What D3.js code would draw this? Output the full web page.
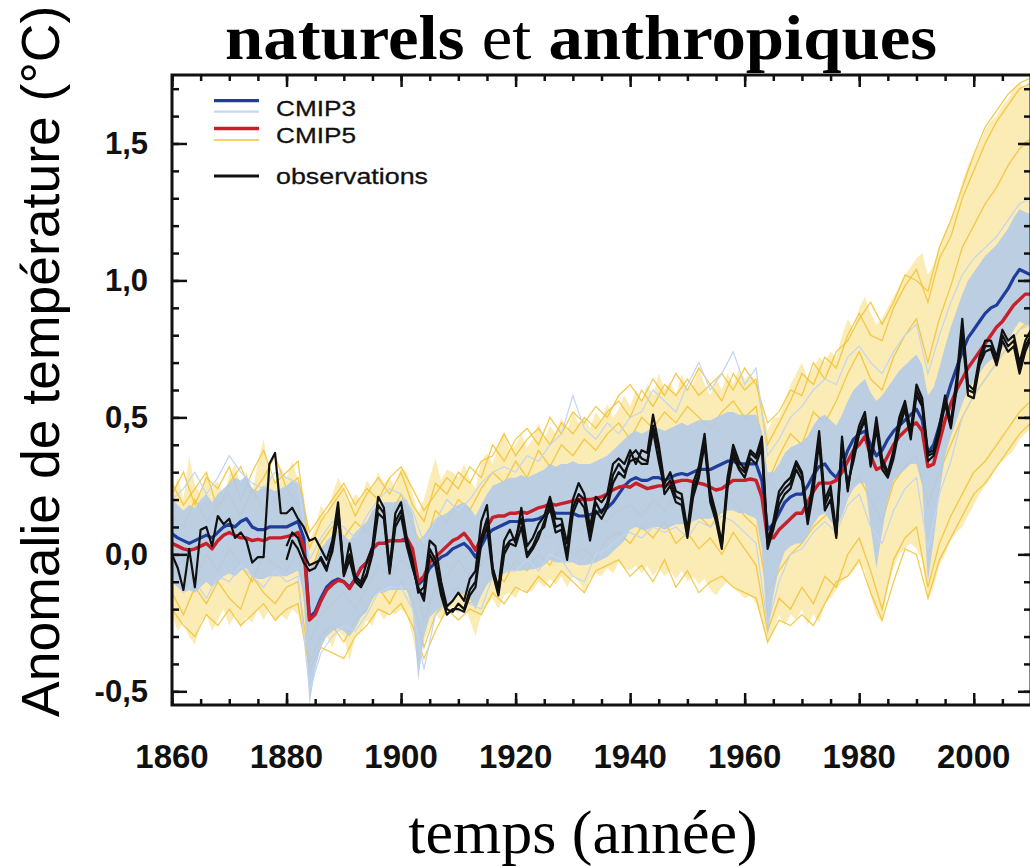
<!DOCTYPE html>
<html><head><meta charset="utf-8">
<script src="https://cdn.jsdelivr.net/npm/d3@7"></script>
<style>body{margin:0;background:#fff}svg{display:block}</style>
</head><body><svg id="c" width="1030" height="867"></svg>
<script>
// ---------- data (°C anomaly) ----------
const startYear = 1860, endYear = 2010, obsLateStart = 1880;

// observations, dataset A (1860-2010)
const obsA = [
 0.00,-0.05,-0.13,0.02,-0.12,0.09,0.10,0.03,0.14,0.11,
 0.13,0.06,0.08,0.05,-0.03,-0.01,-0.01,0.33,0.37,0.15,
 0.15,0.17,0.13,0.10,0.05,0.06,0.02,-0.02,0.05,0.19,
 -0.07,0.04,-0.08,-0.10,-0.03,0.03,0.21,0.17,-0.05,0.15,
 0.19,0.06,-0.02,-0.14,-0.12,0.05,0.03,-0.10,-0.19,-0.17,
 -0.14,-0.17,-0.09,-0.06,0.12,0.18,-0.05,-0.12,0.05,0.09,
 0.04,0.17,0.03,0.06,0.11,0.14,0.21,0.13,0.13,0.04,
 0.20,0.26,0.22,0.10,0.21,0.19,0.22,0.33,0.35,0.33,
 0.38,0.33,0.38,0.37,0.51,0.40,0.26,0.30,0.23,0.22,
 0.09,0.26,0.32,0.44,0.23,0.15,0.04,0.28,0.40,0.34,
 0.31,0.38,0.36,0.43,0.05,0.12,0.23,0.26,0.28,0.34,
 0.30,0.14,0.28,0.45,0.20,0.25,0.08,0.43,0.23,0.38,
 0.47,0.52,0.35,0.50,0.35,0.30,0.38,0.50,0.56,0.45,
 0.62,0.57,0.37,0.38,0.47,0.58,0.48,0.64,0.86,0.62,
 0.60,0.72,0.78,0.78,0.72,0.82,0.78,0.80,0.70,0.78,
 0.82];
// observations, datasets B and C (1880-2010)
const obsB = [
 0.03,0.08,0.06,0.00,-0.04,-0.03,-0.02,-0.06,0.03,0.17,
 -0.06,0.00,-0.09,-0.11,-0.07,0.01,0.18,0.15,-0.06,0.12,
 0.16,0.05,-0.04,-0.13,-0.15,0.02,-0.02,-0.13,-0.20,-0.21,
 -0.18,-0.20,-0.13,-0.10,0.06,0.13,-0.05,-0.14,0.02,0.05,
 0.06,0.13,0.00,0.03,0.08,0.10,0.19,0.10,0.11,0.00,
 0.17,0.22,0.20,0.07,0.19,0.15,0.19,0.29,0.33,0.30,
 0.34,0.35,0.33,0.33,0.47,0.38,0.22,0.25,0.19,0.18,
 0.06,0.21,0.28,0.40,0.19,0.12,0.02,0.24,0.36,0.31,
 0.28,0.35,0.33,0.39,0.02,0.09,0.18,0.22,0.24,0.31,
 0.27,0.11,0.23,0.41,0.16,0.20,0.06,0.39,0.26,0.34,
 0.44,0.49,0.32,0.46,0.31,0.28,0.35,0.46,0.53,0.42,
 0.58,0.54,0.34,0.36,0.44,0.55,0.46,0.60,0.80,0.58,
 0.57,0.69,0.74,0.75,0.69,0.78,0.74,0.76,0.66,0.74,
 0.79];
const obsC = [
 -0.02,0.05,0.02,-0.03,-0.06,-0.05,-0.01,-0.05,0.01,0.14,
 -0.08,-0.02,-0.10,-0.12,-0.08,0.00,0.15,0.13,-0.07,0.10,
 0.14,0.03,-0.05,-0.12,-0.17,0.00,-0.04,-0.15,-0.22,-0.20,
 -0.20,-0.21,-0.15,-0.12,0.04,0.10,-0.07,-0.15,0.00,0.04,
 0.03,0.10,-0.01,0.02,0.06,0.12,0.17,0.08,0.09,-0.02,
 0.15,0.20,0.17,0.05,0.16,0.13,0.17,0.26,0.30,0.28,
 0.36,0.38,0.35,0.34,0.45,0.34,0.24,0.27,0.21,0.20,
 0.08,0.23,0.30,0.42,0.21,0.14,0.03,0.26,0.38,0.32,
 0.30,0.37,0.35,0.41,0.04,0.10,0.21,0.24,0.26,0.33,
 0.29,0.13,0.26,0.43,0.18,0.23,0.07,0.41,0.24,0.36,
 0.45,0.50,0.33,0.48,0.33,0.29,0.37,0.48,0.54,0.44,
 0.60,0.55,0.36,0.37,0.45,0.57,0.47,0.62,0.83,0.60,
 0.59,0.70,0.76,0.76,0.70,0.80,0.76,0.78,0.68,0.76,
 0.80];

// multi-model means (1860-2010)
const cmip5Mean = [
 0.04,0.03,0.02,0.015,0.02,0.03,0.04,0.02,0.05,0.07,
 0.08,0.07,0.06,0.06,0.05,0.055,0.05,0.06,0.06,0.06,
 0.065,0.07,0.08,0.03,-0.24,-0.22,-0.17,-0.13,-0.11,-0.095,
 -0.10,-0.125,-0.09,-0.05,-0.03,0.02,0.04,0.04,0.05,0.05,
 0.05,0.06,0.02,-0.10,-0.08,-0.03,-0.01,0.01,0.03,0.05,
 0.06,0.077,0.05,0.015,0.06,0.10,0.135,0.14,0.14,0.15,
 0.15,0.155,0.15,0.16,0.17,0.175,0.185,0.18,0.185,0.19,
 0.195,0.20,0.20,0.20,0.205,0.21,0.22,0.235,0.245,0.25,
 0.245,0.26,0.25,0.24,0.245,0.25,0.25,0.26,0.265,0.27,
 0.27,0.265,0.26,0.255,0.245,0.235,0.24,0.255,0.27,0.27,
 0.27,0.275,0.27,0.21,0.06,0.06,0.09,0.11,0.13,0.15,
 0.15,0.19,0.23,0.26,0.26,0.26,0.27,0.30,0.34,0.38,
 0.40,0.43,0.36,0.31,0.32,0.36,0.40,0.43,0.45,0.47,
 0.48,0.45,0.32,0.33,0.41,0.49,0.55,0.60,0.64,0.68,
 0.71,0.74,0.77,0.80,0.83,0.85,0.88,0.91,0.93,0.95,
 0.95];
const cmip3Mean = [
 0.075,0.06,0.05,0.04,0.05,0.06,0.07,0.06,0.08,0.10,
 0.11,0.10,0.12,0.13,0.10,0.09,0.09,0.10,0.10,0.10,
 0.10,0.11,0.12,0.06,-0.23,-0.21,-0.16,-0.12,-0.10,-0.09,
 -0.10,-0.12,-0.09,-0.05,-0.03,0.02,0.04,0.04,0.05,0.05,
 0.05,0.05,0.00,-0.11,-0.09,-0.05,-0.03,-0.01,0.00,0.02,
 0.03,0.04,0.02,-0.01,0.03,0.07,0.09,0.10,0.11,0.12,
 0.12,0.12,0.125,0.125,0.13,0.14,0.16,0.15,0.15,0.15,
 0.15,0.14,0.14,0.145,0.15,0.16,0.17,0.19,0.22,0.25,
 0.27,0.28,0.27,0.27,0.28,0.28,0.27,0.28,0.29,0.295,
 0.29,0.30,0.31,0.31,0.31,0.32,0.33,0.34,0.34,0.33,
 0.33,0.33,0.33,0.27,0.09,0.11,0.15,0.19,0.21,0.22,
 0.22,0.25,0.29,0.32,0.33,0.30,0.28,0.32,0.38,0.42,
 0.44,0.45,0.40,0.36,0.38,0.42,0.45,0.47,0.49,0.51,
 0.53,0.49,0.37,0.40,0.47,0.55,0.62,0.68,0.74,0.79,
 0.82,0.85,0.88,0.90,0.91,0.94,0.97,1.01,1.04,1.03,
 1.02];

// CMIP5 ensemble spread (yellow), upper / lower edge (1860-2010)
const cmip5High = [
 0.22,0.28,0.20,0.36,0.25,0.22,0.30,0.24,0.27,0.21,
 0.29,0.33,0.25,0.30,0.22,0.34,0.42,0.30,0.26,0.32,
 0.28,0.34,0.27,0.22,0.05,0.10,0.18,0.14,0.22,0.28,
 0.24,0.18,0.22,0.20,0.27,0.24,0.30,0.26,0.28,0.24,
 0.32,0.30,0.22,0.15,0.20,0.28,0.35,0.27,0.31,0.30,
 0.28,0.33,0.27,0.24,0.34,0.37,0.33,0.40,0.45,0.38,
 0.40,0.44,0.39,0.42,0.48,0.42,0.47,0.44,0.50,0.45,
 0.52,0.48,0.50,0.46,0.52,0.49,0.55,0.50,0.53,0.58,
 0.54,0.60,0.56,0.62,0.58,0.66,0.60,0.63,0.58,0.66,
 0.60,0.62,0.68,0.62,0.58,0.64,0.60,0.66,0.62,0.68,
 0.64,0.66,0.62,0.55,0.45,0.50,0.50,0.56,0.62,0.66,
 0.70,0.64,0.68,0.72,0.70,0.74,0.72,0.80,0.86,0.82,
 0.90,0.94,0.88,0.84,0.86,0.90,0.94,0.98,1.02,1.05,
 1.08,1.10,1.02,1.06,1.12,1.18,1.22,1.28,1.36,1.42,
 1.46,1.50,1.55,1.58,1.60,1.64,1.66,1.70,1.72,1.70,
 1.74];
const cmip5Low = [
 -0.22,-0.28,-0.25,-0.30,-0.33,-0.25,-0.22,-0.28,-0.24,-0.20,
 -0.26,-0.22,-0.27,-0.23,-0.25,-0.20,-0.24,-0.20,-0.25,-0.22,
 -0.24,-0.20,-0.22,-0.30,-0.45,-0.38,-0.33,-0.30,-0.34,-0.28,
 -0.30,-0.39,-0.30,-0.28,-0.24,-0.26,-0.20,-0.24,-0.21,-0.22,
 -0.20,-0.22,-0.30,-0.40,-0.32,-0.27,-0.22,-0.24,-0.21,-0.19,
 -0.22,-0.18,-0.24,-0.30,-0.22,-0.18,-0.16,-0.20,-0.15,-0.14,
 -0.16,-0.12,-0.14,-0.13,-0.10,-0.12,-0.09,-0.11,-0.08,-0.12,
 -0.08,-0.10,-0.14,-0.09,-0.07,-0.08,-0.05,-0.07,-0.03,-0.05,
 -0.06,-0.04,-0.07,-0.04,-0.08,-0.05,-0.08,-0.06,-0.09,-0.06,
 -0.10,-0.08,-0.11,-0.09,-0.13,-0.15,-0.12,-0.10,-0.12,-0.14,
 -0.16,-0.15,-0.18,-0.24,-0.33,-0.28,-0.22,-0.26,-0.22,-0.24,
 -0.20,-0.26,-0.22,-0.25,-0.18,-0.16,-0.13,-0.10,-0.08,-0.06,
 -0.03,-0.06,-0.15,-0.22,-0.25,-0.12,-0.05,0.00,0.02,0.04,
 0.02,-0.02,-0.17,-0.12,-0.04,0.00,0.05,0.08,0.10,0.14,
 0.18,0.22,0.25,0.28,0.32,0.34,0.36,0.38,0.42,0.44,
 0.46];

// CMIP3 ensemble spread (light blue), upper / lower edge (1860-2010)
const cmip3High = [
 0.20,0.18,0.16,0.18,0.17,0.20,0.22,0.19,0.22,0.24,
 0.26,0.28,0.27,0.29,0.24,0.23,0.25,0.24,0.23,0.24,
 0.25,0.27,0.26,0.20,-0.05,-0.03,0.02,0.05,0.07,0.08,
 0.07,0.05,0.08,0.10,0.12,0.16,0.18,0.19,0.19,0.19,
 0.20,0.20,0.15,0.05,0.07,0.10,0.13,0.14,0.15,0.17,
 0.18,0.19,0.17,0.14,0.18,0.22,0.25,0.26,0.27,0.28,
 0.28,0.29,0.28,0.29,0.30,0.31,0.33,0.32,0.33,0.33,
 0.34,0.33,0.33,0.33,0.34,0.35,0.36,0.38,0.40,0.42,
 0.44,0.45,0.44,0.45,0.46,0.46,0.45,0.46,0.47,0.48,
 0.47,0.48,0.49,0.49,0.49,0.50,0.51,0.52,0.52,0.51,
 0.51,0.51,0.51,0.45,0.30,0.30,0.33,0.37,0.39,0.40,
 0.41,0.43,0.47,0.50,0.51,0.49,0.47,0.51,0.56,0.60,
 0.62,0.64,0.59,0.56,0.58,0.61,0.64,0.67,0.69,0.71,
 0.73,0.69,0.58,0.61,0.68,0.76,0.83,0.89,0.95,1.00,
 1.03,1.06,1.09,1.11,1.13,1.16,1.19,1.23,1.26,1.25,
 1.24];
const cmip3Low = [
 -0.10,-0.12,-0.14,-0.13,-0.14,-0.12,-0.10,-0.12,-0.10,-0.08,
 -0.07,-0.08,-0.06,-0.05,-0.08,-0.09,-0.09,-0.08,-0.08,-0.08,
 -0.08,-0.07,-0.06,-0.15,-0.55,-0.42,-0.34,-0.30,-0.28,-0.27,
 -0.28,-0.30,-0.27,-0.23,-0.21,-0.16,-0.14,-0.14,-0.13,-0.13,
 -0.13,-0.13,-0.20,-0.46,-0.30,-0.23,-0.21,-0.19,-0.18,-0.16,
 -0.15,-0.14,-0.16,-0.20,-0.15,-0.11,-0.09,-0.08,-0.07,-0.06,
 -0.06,-0.06,-0.055,-0.055,-0.05,-0.04,-0.02,-0.03,-0.03,-0.03,
 -0.03,-0.04,-0.04,-0.035,-0.03,-0.02,-0.01,0.01,0.03,0.05,
 0.09,0.10,0.09,0.09,0.10,0.10,0.09,0.10,0.11,0.11,
 0.11,0.12,0.13,0.13,0.13,0.14,0.15,0.16,0.16,0.15,
 0.15,0.14,0.13,0.02,-0.30,-0.15,-0.05,0.01,0.03,0.04,
 0.04,0.07,0.11,0.14,0.15,0.12,0.10,0.14,0.20,0.24,
 0.26,0.26,0.10,-0.05,0.08,0.20,0.27,0.29,0.31,0.33,
 0.33,0.25,-0.10,0.05,0.22,0.36,0.43,0.49,0.55,0.60,
 0.63,0.66,0.69,0.71,0.72,0.75,0.78,0.82,0.85,0.84,
 0.83];

// individual model runs, every second year 1860-2010
const cmip5Run1 = [0.22,0.30,0.18,0.28,0.24,0.32,0.20,0.30,0.38,0.26,0.30,0.34,0.02,0.12,0.18,0.24,0.14,0.22,0.28,0.22,0.30,0.18,0.12,0.26,0.22,0.30,0.26,0.34,0.36,0.44,0.36,0.42,0.46,0.40,0.48,0.44,0.50,0.46,0.52,0.56,0.50,0.60,0.54,0.62,0.58,0.64,0.58,0.62,0.56,0.66,0.60,0.64,0.40,0.48,0.56,0.66,0.62,0.72,0.68,0.80,0.88,0.80,0.78,0.90,0.98,1.04,0.92,1.08,1.16,1.30,1.40,1.50,1.58,1.64,1.70,1.72];
const cmip5Run2 = [0.14,0.10,0.20,0.12,0.18,0.22,0.14,0.24,0.16,0.20,0.24,0.18,-0.08,0.04,0.10,0.06,0.12,0.08,0.18,0.14,0.22,0.10,0.02,0.16,0.12,0.20,0.16,0.24,0.30,0.26,0.34,0.28,0.38,0.32,0.40,0.36,0.42,0.38,0.44,0.48,0.42,0.50,0.46,0.52,0.48,0.54,0.50,0.46,0.52,0.56,0.50,0.54,0.26,0.36,0.44,0.40,0.52,0.48,0.56,0.66,0.74,0.64,0.60,0.72,0.80,0.86,0.70,0.86,0.98,1.12,1.20,1.28,1.34,1.42,1.48,1.52];
const cmip5Run3 = [-0.14,-0.22,-0.12,-0.18,-0.10,-0.16,-0.20,-0.08,-0.14,-0.18,-0.12,-0.10,-0.40,-0.30,-0.26,-0.32,-0.24,-0.20,-0.12,-0.18,-0.10,-0.16,-0.34,-0.22,-0.16,-0.12,-0.18,-0.14,-0.06,-0.10,-0.02,-0.06,0.00,-0.04,0.04,0.00,0.02,-0.02,0.06,0.08,0.04,0.10,0.06,0.12,0.04,0.08,0.02,0.06,0.00,0.08,0.02,-0.04,-0.28,-0.16,-0.20,-0.12,-0.18,-0.08,-0.12,0.00,0.06,-0.06,-0.20,-0.02,0.06,0.10,-0.12,0.04,0.14,0.22,0.30,0.34,0.40,0.46,0.52,0.56];
const cmip5Run4 = [-0.20,-0.26,-0.30,-0.22,-0.26,-0.20,-0.26,-0.22,-0.18,-0.24,-0.20,-0.18,-0.42,-0.34,-0.36,-0.38,-0.30,-0.26,-0.20,-0.22,-0.18,-0.26,-0.38,-0.28,-0.20,-0.24,-0.20,-0.22,-0.14,-0.18,-0.12,-0.14,-0.08,-0.12,-0.06,-0.10,-0.14,-0.06,-0.04,-0.02,-0.08,-0.04,-0.10,-0.02,-0.12,-0.06,-0.14,-0.10,-0.08,-0.12,-0.14,-0.16,-0.32,-0.24,-0.26,-0.22,-0.26,-0.18,-0.10,-0.08,-0.02,-0.14,-0.24,-0.10,0.02,0.00,-0.16,-0.02,0.06,0.14,0.22,0.26,0.32,0.38,0.44,0.48];
const cmip5Run5 = [-0.06,-0.02,-0.10,0.00,-0.06,0.02,-0.04,-0.10,0.00,-0.04,-0.06,0.02,-0.32,-0.22,-0.18,-0.14,-0.20,-0.12,-0.04,-0.08,-0.02,-0.06,-0.24,-0.12,-0.08,-0.02,-0.08,-0.04,0.04,0.00,0.06,0.02,0.08,0.06,0.12,0.08,0.10,0.14,0.12,0.16,0.18,0.14,0.20,0.16,0.22,0.18,0.14,0.10,0.16,0.20,0.14,0.10,-0.14,-0.06,0.00,0.04,0.10,0.14,0.18,0.24,0.28,0.20,0.12,0.26,0.32,0.36,0.18,0.30,0.40,0.50,0.58,0.64,0.70,0.76,0.82,0.86];
const cmip5Run6 = [0.26,0.18,0.24,0.30,0.16,0.26,0.32,0.22,0.28,0.36,0.24,0.28,0.08,0.14,0.20,0.26,0.18,0.24,0.20,0.28,0.32,0.24,0.16,0.22,0.28,0.24,0.32,0.28,0.40,0.34,0.42,0.46,0.40,0.50,0.44,0.52,0.48,0.54,0.50,0.58,0.62,0.56,0.64,0.58,0.66,0.60,0.68,0.62,0.66,0.60,0.68,0.62,0.48,0.52,0.60,0.58,0.70,0.64,0.74,0.78,0.86,0.92,0.84,0.92,1.02,1.00,0.96,1.12,1.22,1.34,1.46,1.56,1.62,1.68,1.72,1.74];
const cmip3Run1 = [0.20,0.24,0.30,0.22,0.28,0.36,0.30,0.26,0.24,0.30,0.28,0.26,-0.02,0.06,0.12,0.10,0.06,0.14,0.20,0.24,0.22,0.16,0.04,0.12,0.20,0.16,0.20,0.26,0.30,0.32,0.30,0.36,0.34,0.40,0.44,0.58,0.46,0.42,0.48,0.44,0.50,0.52,0.60,0.56,0.52,0.62,0.70,0.60,0.66,0.74,0.62,0.68,0.36,0.42,0.50,0.54,0.60,0.64,0.62,0.72,0.76,0.70,0.66,0.74,0.80,0.84,0.66,0.80,0.92,1.02,1.08,1.12,1.16,1.22,1.28,1.30];
const cmip3Run2 = [-0.08,-0.14,-0.10,-0.16,-0.08,-0.10,-0.04,-0.08,-0.12,-0.06,-0.10,-0.08,-0.50,-0.36,-0.30,-0.26,-0.28,-0.22,-0.14,-0.12,-0.12,-0.20,-0.42,-0.22,-0.18,-0.14,-0.18,-0.20,-0.08,-0.06,-0.06,-0.02,-0.06,0.00,-0.02,-0.08,-0.10,0.00,0.02,0.06,0.08,0.06,0.10,0.08,0.10,0.06,0.12,0.10,0.14,0.12,0.08,0.04,-0.26,-0.10,0.00,0.02,0.08,0.12,0.08,0.18,0.22,0.10,0.04,0.16,0.24,0.28,0.02,0.22,0.34,0.50,0.58,0.64,0.70,0.76,0.82,0.84];

// axis ticks and labels
const xTickYears = [1860,1880,1900,1920,1940,1960,1980,2000];
const xTickLabels = ["1860","1880","1900","1920","1940","1960","1980","2000"];
const yTickValues = [-0.5,0,0.5,1,1.5];
const yTickLabels = ["-0,5","0,0","0,5","1,0","1,5"];
const legendNames = ["CMIP3","CMIP5","observations"];
const titleParts = [["naturels",true],[" et ",false],["anthropiques",true]];
const xTitle = "temps (année)";
const yTitle = "Anomalie de température (°C)";

// ---------- drawing ----------
(function(){
const svg = d3.select("#c");
const pL=172, pR=1031, pT=75, pB=705;
const x = d3.scaleLinear().domain([startYear, endYear]).range([pL, pR]);
const y = d3.scaleLinear().domain([-0.55, 1.75]).range([pB, pT]);

const years = d3.range(startYear, endYear + 1);
const lateYears = d3.range(obsLateStart, endYear + 1);
const years2 = d3.range(startYear, endYear + 1, 2);
const pairs = (yrs, vals) => yrs.map((yr, i) => [yr, vals[i]]);

svg.append("rect").attr("width",1030).attr("height",867).attr("fill","#fff");
svg.append("defs").append("clipPath").attr("id","clip")
  .append("rect").attr("x",pL).attr("y",pT).attr("width",pR-pL).attr("height",pB-pT);
const plot = svg.append("g").attr("clip-path","url(#clip)");

const line = d3.line().x(d => x(d[0])).y(d => y(d[1]));
const area = d3.area().x(d => x(d.yr)).y0(d => y(d.lo)).y1(d => y(d.hi));

// yellow CMIP5 spread
plot.append("path")
  .datum(years.map((yr,i)=>({yr, lo:cmip5Low[i], hi:cmip5High[i]})))
  .attr("d", area).attr("fill","#f8de86").attr("opacity",0.62);
[cmip5Run1,cmip5Run2,cmip5Run3,cmip5Run4,cmip5Run5,cmip5Run6].forEach(r=>{
  plot.append("path").datum(pairs(years2, r)).attr("d", line)
    .attr("fill","none").attr("stroke","#f1c232").attr("stroke-width",1.3).attr("opacity",0.85);
});
// light blue CMIP3 spread
plot.append("path")
  .datum(years.map((yr,i)=>({yr, lo:cmip3Low[i], hi:cmip3High[i]})))
  .attr("d", area).attr("fill","#b4cbe7").attr("opacity",0.9);
[cmip3Run1,cmip3Run2].forEach(r=>{
  plot.append("path").datum(pairs(years2, r)).attr("d", line)
    .attr("fill","none").attr("stroke","#c3d5ef").attr("stroke-width",1.2);
});
// means
plot.append("path").datum(pairs(years, cmip3Mean)).attr("d", line)
  .attr("fill","none").attr("stroke","#1f3d9b").attr("stroke-width",3.2).attr("stroke-linejoin","round");
plot.append("path").datum(pairs(years, cmip5Mean)).attr("d", line)
  .attr("fill","none").attr("stroke","#c81f2b").attr("stroke-width",3.4).attr("stroke-linejoin","round");
// observations
[[years,obsA],[lateYears,obsB],[lateYears,obsC]].forEach(([yrs,v])=>{
  plot.append("path").datum(pairs(yrs, v)).attr("d", line)
    .attr("fill","none").attr("stroke","#111").attr("stroke-width",2.2).attr("stroke-linejoin","round");
});

// ---------- axes (inward ticks) ----------
const minorX = d3.range(startYear, endYear + 1, 5);
const minorY = d3.range(-5, 18).map(v => v / 10);
const axG = svg.append("g");
function addAxis(gen, tr){
  const g = axG.append("g").attr("transform", tr).call(gen);
  g.select(".domain").remove();
  g.selectAll("line").attr("stroke","#111").attr("stroke-width",2.5);
  g.selectAll("text").remove();
}
addAxis(d3.axisBottom(x).tickValues(minorX).tickSize(-6), `translate(0,${pB})`);
addAxis(d3.axisBottom(x).tickValues(xTickYears).tickSize(-12), `translate(0,${pB})`);
addAxis(d3.axisTop(x).tickValues(minorX).tickSize(-6), `translate(0,${pT})`);
addAxis(d3.axisTop(x).tickValues(xTickYears).tickSize(-12), `translate(0,${pT})`);
addAxis(d3.axisLeft(y).tickValues(minorY).tickSize(-7), `translate(${pL},0)`);
addAxis(d3.axisLeft(y).tickValues(yTickValues).tickSize(-15), `translate(${pL},0)`);
addAxis(d3.axisRight(y).tickValues(minorY).tickSize(-7), `translate(${pR},0)`);
addAxis(d3.axisRight(y).tickValues(yTickValues).tickSize(-13), `translate(${pR},0)`);
svg.append("rect").attr("x",pL).attr("y",pT).attr("width",pR-pL).attr("height",pB-pT)
  .attr("fill","none").attr("stroke","#111").attr("stroke-width",3);

// tick labels
svg.append("g").selectAll("text").data(xTickYears).join("text")
  .attr("x", d => x(d)).attr("y", 768).attr("text-anchor","middle")
  .attr("font-family","Liberation Sans, Arial, sans-serif").attr("font-weight","bold")
  .attr("font-size",33).attr("fill","#111").text((d,i)=>xTickLabels[i]);
svg.append("g").selectAll("text").data(yTickValues).join("text")
  .attr("x", 148).attr("y", d => y(d) + 11).attr("text-anchor","end")
  .attr("font-family","Liberation Sans, Arial, sans-serif").attr("font-weight","bold")
  .attr("font-size",31).attr("fill","#111").text((d,i)=>yTickLabels[i]);

// legend
const lg = svg.append("g");
const legendLines = [[100.7,"#1f3d9b",3.2],[111.7,"#c6d6ee",2.2],[128.5,"#c81f2b",3.4],[140,"#f2d36b",2.2],[176,"#111",3]];
legendLines.forEach(([ly,c,w])=>lg.append("line").attr("x1",214).attr("x2",259).attr("y1",ly).attr("y2",ly)
  .attr("stroke",c).attr("stroke-width",w));
const legendText = [[116,80],[143,80],[184,152]];
legendNames.forEach((n,i)=>lg.append("text").attr("x",276).attr("y",legendText[i][0])
  .attr("font-family","Liberation Sans, Arial, sans-serif").attr("font-size",22).attr("fill","#111")
  .attr("stroke","#111").attr("stroke-width",0.3)
  .attr("textLength",legendText[i][1]).attr("lengthAdjust","spacingAndGlyphs").text(n));

// titles
const tt = svg.append("text").attr("x",581).attr("y",58.5).attr("text-anchor","middle")
  .attr("font-family","Liberation Serif, Times New Roman, serif").attr("font-size",64).attr("fill","#000")
  .attr("textLength",712).attr("lengthAdjust","spacingAndGlyphs");
titleParts.forEach(([t,b])=>tt.append("tspan").attr("font-weight", b ? "bold" : "normal").text(t));
svg.append("text").attr("x",583).attr("y",853).attr("text-anchor","middle")
  .attr("font-family","Liberation Serif, Times New Roman, serif").attr("font-size",62).attr("fill","#000")
  .text(xTitle);
svg.append("text").attr("transform","translate(59,717) rotate(-90)")
  .attr("font-family","Liberation Sans, Arial, sans-serif").attr("font-size",53.5).attr("fill","#000")
  .text(yTitle);
})();
</script></body></html>
